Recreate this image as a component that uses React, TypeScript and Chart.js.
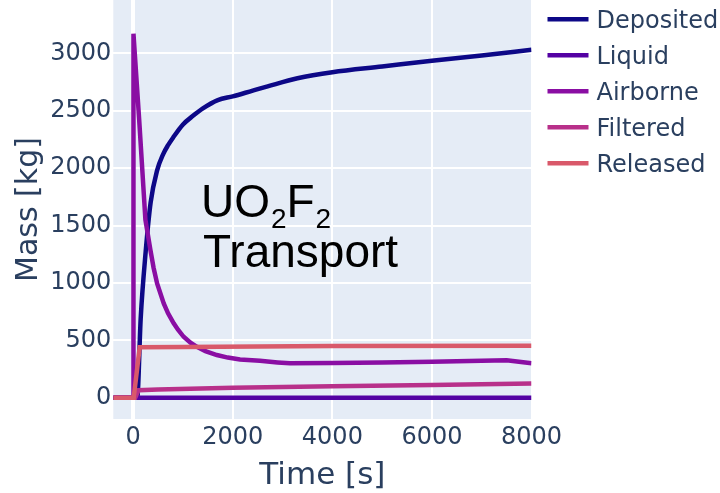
import React, { useEffect, useRef } from 'react';
import { Chart, registerables } from 'chart.js';

Chart.register(...registerables);

// ---- data ----
const seriesNames = ['Deposited', 'Liquid', 'Airborne', 'Filtered', 'Released'];
const seriesColors = ['#0d0887', '#5402a3', '#8a0ea3', '#b8308a', '#d9596a'];

const depositedTime = [-400, 0, 80, 150, 250, 350, 480, 600, 700, 800, 1000, 1200, 1400, 1700, 2000, 2400, 2700, 3300, 4000, 5000, 6000, 7000, 8000];
const depositedMass = [0, 0, 0, 690, 1270, 1700, 1980, 2120, 2200, 2265, 2380, 2455, 2520, 2592, 2625, 2675, 2712, 2782, 2835, 2885, 2935, 2981, 3030];

const liquidTime = [-400, 0, 4000, 8000];
const liquidMass = [0, 0, 0, 0];

const airborneTime = [-400, 0, 5, 120, 245, 346, 410, 480, 613, 700, 813, 900, 1013, 1150, 1280, 1450, 1680, 1900, 2146, 2546, 2900, 3150, 4000, 5000, 6000, 7000, 7500, 8000];
const airborneMass = [0, 0, 3170, 2420, 1550, 1286, 1130, 996, 822, 735, 648, 592, 531, 480, 444, 405, 372, 350, 334, 322, 308, 300, 302, 307, 314, 322, 326, 300];

const filteredTime = [-400, 0, 40, 110, 500, 2000, 4000, 6000, 8000];
const filteredMass = [0, 0, 0, 66, 72, 87, 100, 112, 124];

const releasedTime = [-400, 10, 130, 1000, 4000, 8000];
const releasedMass = [0, 0, 440, 443, 450, 453];

const xTickValues = [0, 2000, 4000, 6000, 8000];
const yTickValues = [0, 500, 1000, 1500, 2000, 2500, 3000];
const xRange = [-400, 8000];
const yRange = [-185, 3464];

const xTitle = 'Time [s]';
const yTitle = 'Mass [kg]';
const annotationAnchor = [1340, 1574];

const seriesTimes = [depositedTime, liquidTime, airborneTime, filteredTime, releasedTime];
const seriesMasses = [depositedMass, liquidMass, airborneMass, filteredMass, releasedMass];
const seriesSmooth = [true, false, false, false, false];

const FONT = '"DejaVu Sans", Verdana, sans-serif';
const TEXT_COLOR = '#2a3f5f';

const bgPlugin = {
  id: 'plotBg',
  beforeDraw(chart: any) {
    const { ctx, chartArea } = chart;
    ctx.save();
    ctx.fillStyle = '#E5ECF6';
    ctx.fillRect(chartArea.left, chartArea.top, chartArea.right - chartArea.left, chartArea.bottom - chartArea.top);
    ctx.restore();
  },
};

const legendPlugin = {
  id: 'customLegend',
  afterDraw(chart: any) {
    const { ctx, chartArea } = chart;
    ctx.save();
    const x0 = chartArea.right + 16;
    seriesNames.forEach((name, i) => {
      const y = 19.3 + 36 * i;
      ctx.strokeStyle = seriesColors[i];
      ctx.lineWidth = 4.5;
      ctx.beginPath();
      ctx.moveTo(x0, y);
      ctx.lineTo(x0 + 41, y);
      ctx.stroke();
      ctx.fillStyle = TEXT_COLOR;
      ctx.font = `24px ${FONT}`;
      ctx.textBaseline = 'alphabetic';
      ctx.textAlign = 'left';
      ctx.fillText(name, x0 + 49, y + 8.7);
    });
    ctx.restore();
  },
};

const annotationPlugin = {
  id: 'uo2f2Annotation',
  afterDatasetsDraw(chart: any) {
    const { ctx, scales } = chart;
    const x = scales.x.getPixelForValue(annotationAnchor[0]);
    const y = scales.y.getPixelForValue(annotationAnchor[1]);
    ctx.save();
    ctx.fillStyle = '#000000';
    ctx.textBaseline = 'alphabetic';
    ctx.textAlign = 'left';
    const big = '46px "Liberation Sans", Arial, sans-serif';
    const small = '28px "Liberation Sans", Arial, sans-serif';
    const parts: [string, boolean][] = [['UO', false], ['2', true], ['F', false], ['2', true]];
    let cx = x + 1;
    parts.forEach(([t, sub]) => {
      ctx.font = sub ? small : big;
      ctx.fillText(t, cx, sub ? y + 11 : y);
      cx += ctx.measureText(t).width + (sub ? 0 : 1);
    });
    ctx.font = big;
    ctx.fillText('Transport', x + 3, y + 50);
    ctx.restore();
  },
};

export default function App() {
  const canvasRef = useRef<HTMLCanvasElement | null>(null);

  useEffect(() => {
    if (!canvasRef.current) return;
    const datasets = seriesNames.map((name, i) => ({
      label: name,
      data: seriesTimes[i].map((t, j) => ({ x: t, y: seriesMasses[i][j] })),
      borderColor: seriesColors[i],
      backgroundColor: seriesColors[i],
      borderWidth: 4.5,
      pointRadius: 0,
      tension: 0,
      cubicInterpolationMode: seriesSmooth[i] ? 'monotone' : 'default',
      fill: false,
      order: seriesNames.length - 1 - i,
    }));

    const chart = new Chart(canvasRef.current, {
      type: 'line',
      data: { datasets },
      options: {
        animation: false,
        responsive: true,
        maintainAspectRatio: false,
        layout: { padding: { left: 0, top: 0, bottom: 0, right: 720 - 531.5 } },
        plugins: { legend: { display: false }, tooltip: { enabled: false } },
        scales: {
          x: {
            type: 'linear',
            min: xRange[0],
            max: xRange[1],
            afterBuildTicks: (s: any) => {
              s.ticks = xTickValues.map((v) => ({ value: v }));
            },
            afterFit: (s: any) => {
              s.height = 74;
              s.paddingLeft = 0;
              s.paddingRight = 0;
            },
            grid: {
              color: '#ffffff',
              lineWidth: (c: any) => (c.tick && c.tick.value === 0 ? 4 : 2),
              drawTicks: false,
            },
            border: { display: false },
            ticks: {
              color: TEXT_COLOR,
              font: { family: FONT, size: 24 },
              padding: 4,
              maxRotation: 0,
              autoSkip: false,
              callback: (v: any) => String(v),
            },
            title: {
              display: true,
              text: xTitle,
              color: TEXT_COLOR,
              font: { family: FONT, size: 31, lineHeight: 1.1 },
              padding: { top: 0, bottom: 0 },
            },
          },
          y: {
            type: 'linear',
            min: yRange[0],
            max: yRange[1],
            afterBuildTicks: (s: any) => {
              s.ticks = yTickValues.map((v) => ({ value: v }));
            },
            afterFit: (s: any) => {
              s.width = 113.3;
              s.paddingTop = 0;
              s.paddingBottom = 0;
            },
            grid: {
              color: '#ffffff',
              lineWidth: (c: any) => (c.tick && c.tick.value === 0 ? 4 : 2),
              drawTicks: false,
            },
            border: { display: false },
            ticks: {
              color: TEXT_COLOR,
              font: { family: FONT, size: 24 },
              padding: 2,
              autoSkip: false,
              callback: (v: any) => String(v),
            },
            title: {
              display: true,
              text: yTitle,
              color: TEXT_COLOR,
              font: { family: FONT, size: 30, lineHeight: 1.2 },
              padding: { top: 11, bottom: 0 },
            },
          },
        },
      },
      plugins: [bgPlugin, legendPlugin, annotationPlugin],
    } as any);

    return () => chart.destroy();
  }, []);

  return (
    <div style={{ position: 'absolute', left: 0, top: 0, width: 720, height: 493, background: '#ffffff' }}>
      <canvas ref={canvasRef} />
    </div>
  );
}
